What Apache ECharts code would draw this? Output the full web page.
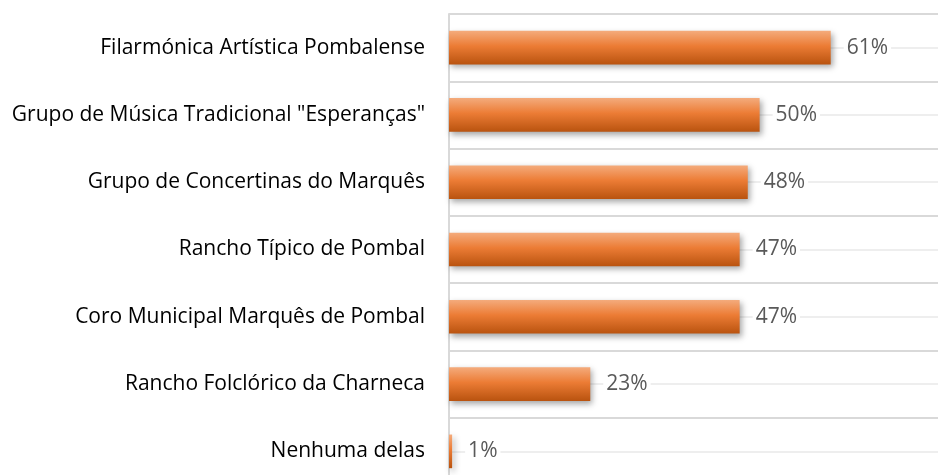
<!DOCTYPE html>
<html>
<head>
<meta charset="utf-8">
<script src="https://cdn.jsdelivr.net/npm/echarts@6/dist/echarts.min.js"></script>
<style>html,body{margin:0;padding:0;background:#fff;}#c{width:938px;height:475px;}</style>
</head>
<body>
<div id="c"></div>
<script>
const categories = [
  'Filarmónica Artística Pombalense',
  'Grupo de Música Tradicional "Esperanças"',
  'Grupo de Concertinas do Marquês',
  'Rancho Típico de Pombal',
  'Coro Municipal Marquês de Pombal',
  'Rancho Folclórico da Charneca',
  'Nenhuma delas'
];
const values = [61.2, 49.8, 47.9, 46.6, 46.6, 22.65, 0.5];
const valueLabels = ['61%', '50%', '48%', '47%', '47%', '23%', '1%'];

const chart = echarts.init(document.getElementById('c'), null, {renderer: 'canvas'});
const FONT = 'Open Sans';
chart.setOption({
  animation: false,
  grid: [
    {left: 449, right: 0, top: 14, height: 471, containLabel: false, outerBoundsMode: 'none'},
    {left: 449, right: 0, top: 47.6, height: 471, containLabel: false, outerBoundsMode: 'none'}
  ],
  xAxis: [
    {type: 'value', gridIndex: 0, min: 0, max: 78.4, show: false},
    {type: 'value', gridIndex: 1, min: 0, max: 1, show: false}
  ],
  yAxis: [
    {
      type: 'category', gridIndex: 0, data: categories, inverse: true,
      axisLine: {show: true, lineStyle: {color: '#d9d9d9', width: 2}},
      axisTick: {show: false},
      axisLabel: {color: '#000', fontFamily: FONT, fontSize: 21, margin: 24},
      splitLine: {show: true, lineStyle: {color: '#d9d9d9', width: 2}}
    },
    {
      type: 'category', gridIndex: 1, data: categories, inverse: true,
      axisLine: {show: false}, axisTick: {show: false}, axisLabel: {show: false},
      splitLine: {show: true, lineStyle: {color: '#eeeeee', width: 2}}
    }
  ],
  series: [{
    type: 'bar',
    xAxisIndex: 0, yAxisIndex: 0,
    data: values,
    barCategoryGap: '50%',
    itemStyle: {
      color: new echarts.graphic.LinearGradient(0, 0, 0, 1, [
        {offset: 0, color: '#f4ab7c'},
        {offset: 0.45, color: '#ec7c35'},
        {offset: 1, color: '#b9530f'}
      ]),
      shadowColor: 'rgba(0,0,0,0.35)',
      shadowBlur: 6,
      shadowOffsetX: 2,
      shadowOffsetY: 3
    },
    label: {
      show: true, position: 'right', distance: 13,
      formatter: p => valueLabels[p.dataIndex],
      color: '#595959', fontFamily: FONT, fontSize: 21,
      backgroundColor: '#fff', padding: [2, 3]
    }
  }]
});
</script>
</body>
</html>
